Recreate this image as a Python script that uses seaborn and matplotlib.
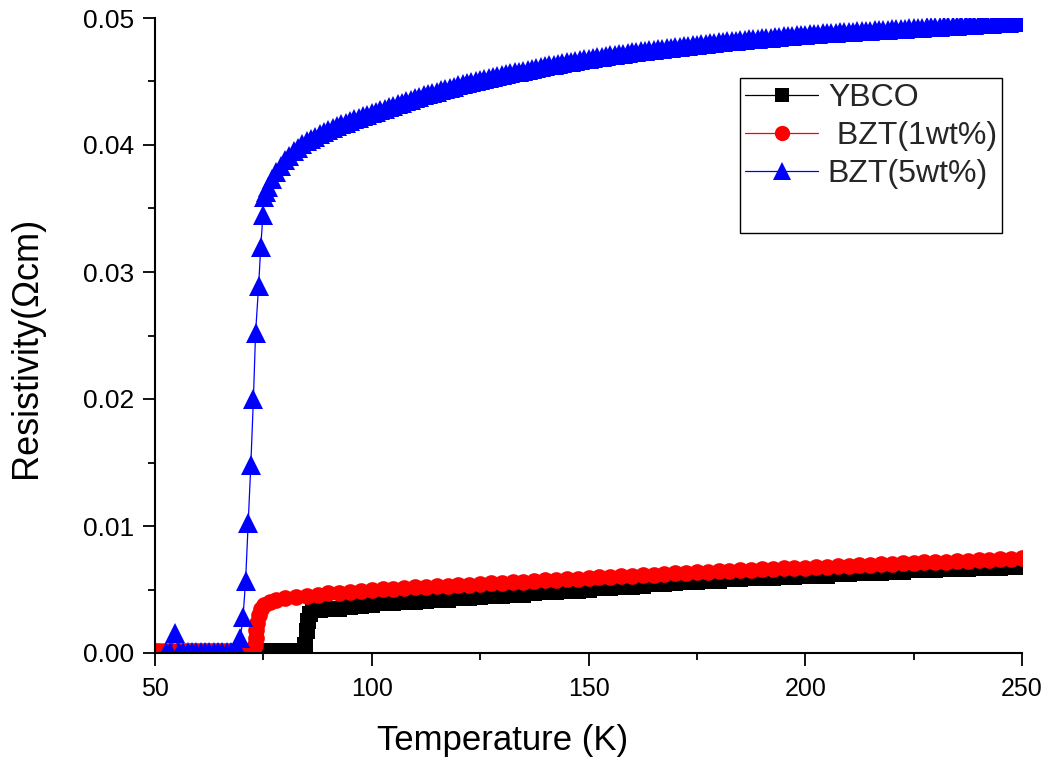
import matplotlib
matplotlib.use("Agg")
import matplotlib.pyplot as plt
from matplotlib.lines import Line2D
from matplotlib.ticker import MultipleLocator, FormatStrFormatter
import seaborn as sns
import pandas as pd

# ---------------- data ----------------
labels = ["YBCO", " BZT(1wt%)", "BZT(5wt%)"]

temp_normal = [100, 102.5, 105, 107.5, 110, 112.5, 115, 117.5, 120, 122.5,
               125, 127.5, 130, 132.5, 135, 137.5, 140, 142.5, 145, 147.5,
               150, 152.5, 155, 157.5, 160, 162.5, 165, 167.5, 170, 172.5,
               175, 177.5, 180, 182.5, 185, 187.5, 190, 192.5, 195, 197.5,
               200, 202.5, 205, 207.5, 210, 212.5, 215, 217.5, 220, 222.5,
               225, 227.5, 230, 232.5, 235, 237.5, 240, 242.5, 245, 247.5, 250]

# YBCO
ybco_temp_low = [72, 73, 74, 75, 76, 77, 78, 79, 80, 81, 82, 83, 84,
                 84.6, 85.0, 85.4, 85.8, 86.5, 88, 90, 92.5, 95, 97.5]
ybco_rho_low = [0.00015, 0.00015, 0.00015, 0.00015, 0.00015, 0.00015, 0.00015,
                0.00015, 0.00015, 0.00015, 0.00015, 0.00015, 0.00015,
                0.0006, 0.0017, 0.0025, 0.0031, 0.0034, 0.0034, 0.0035,
                0.0035, 0.0036, 0.0037]
ybco_rho_normal = [0.0038, 0.0039, 0.0039, 0.0040, 0.0040, 0.0041, 0.0042, 0.0042,
                   0.0043, 0.0043, 0.0044, 0.0045, 0.0045, 0.0046, 0.0046, 0.0047,
                   0.0048, 0.0048, 0.0049, 0.0049, 0.0050, 0.0051, 0.0051, 0.0052,
                   0.0052, 0.0053, 0.0054, 0.0054, 0.0055, 0.0056, 0.0056, 0.0057,
                   0.0057, 0.0058, 0.0058, 0.0059, 0.0059, 0.0059, 0.0060, 0.0060,
                   0.0061, 0.0061, 0.0061, 0.0062, 0.0062, 0.0063, 0.0063, 0.0063,
                   0.0064, 0.0064, 0.0065, 0.0065, 0.0065, 0.0066, 0.0066, 0.0066,
                   0.0067, 0.0067, 0.0067, 0.0068, 0.0068]

# BZT 1 wt%
bzt1_temp_low = [50, 51, 52, 53, 54, 55, 56, 57, 58, 59, 60, 61, 62, 63, 64,
                 65, 66, 67, 68, 69, 70, 71, 72, 72.5, 73.0, 73.2, 73.4, 73.6,
                 73.9, 74.4, 75.2, 76.5, 78, 80, 82.5, 85, 87.5, 90, 92.5, 95, 97.5]
bzt1_rho_low = [0.00015, 0.00015, 0.00015, 0.00015, 0.00015,
                0.00015, 0.00015, 0.00015, 0.00015, 0.00015, 0.00015, 0.00015,
                0.00015, 0.00015, 0.00015, 0.00015, 0.00015, 0.00015, 0.00015,
                0.00015, 0.00015, 0.00015, 0.00015, 0.0002, 0.0006, 0.0012,
                0.0018, 0.0024, 0.0030, 0.0035, 0.0038, 0.0040, 0.0042, 0.0043,
                0.0044, 0.0045, 0.0046, 0.0047, 0.00475, 0.0048, 0.0049]
bzt1_rho_normal = [0.00497, 0.00502, 0.00506, 0.00511, 0.00516, 0.00520, 0.00525,
                   0.00530, 0.00534, 0.00539, 0.00544, 0.00548, 0.00553, 0.00558,
                   0.00562, 0.00567, 0.00572, 0.00576, 0.00581, 0.00586, 0.00590,
                   0.00595, 0.00600, 0.00604, 0.00609, 0.00614, 0.00618, 0.00623,
                   0.00628, 0.00632, 0.00637, 0.00641, 0.00644, 0.00648, 0.00651,
                   0.00655, 0.00659, 0.00662, 0.00666, 0.00669, 0.00673, 0.00677,
                   0.00680, 0.00684, 0.00687, 0.00691, 0.00695, 0.00698, 0.00702,
                   0.00705, 0.00709, 0.00713, 0.00716, 0.00720, 0.00723, 0.00727,
                   0.00731, 0.00734, 0.00738, 0.00741, 0.00745]

# BZT 5 wt%
bzt5_temp_low = [52.5, 53.5, 54.6, 55.5, 56.5, 57.5, 58.5, 59.5, 60.5, 61.5,
                 62.5, 63.5, 64.5, 65.5, 66.5, 67.5, 68.5, 69.3, 69.7, 70.3,
                 70.9, 71.5, 72.1, 72.7, 73.2, 73.9, 74.4, 74.9, 75.1, 75.5]
bzt5_rho_low = [0.0001, 0.0001, 0.0016, 0.0001, 0.0001, 0.0001, 0.0001, 0.0001,
                0.0001, 0.0001, 0.0001, 0.0001, 0.0001, 0.0001, 0.0001, 0.0001,
                0.0001, 0.0001, 0.0012, 0.0028, 0.0057, 0.0102, 0.0148, 0.0200,
                0.0252, 0.0289, 0.0320, 0.0345, 0.0359, 0.0363]
bzt5_temp_high = [76, 77, 78, 79, 80, 81, 82, 83, 84, 85,
                  86, 87, 88, 89, 90, 91, 92, 93, 94, 95,
                  96, 97, 98, 99, 100, 101, 102, 103, 104, 105,
                  106, 107, 108, 109, 110, 111, 112, 113, 114, 115,
                  116, 117, 118, 119, 120, 121, 122, 123, 124, 125,
                  126, 127, 128, 129, 130, 131, 132, 133, 134, 135,
                  136, 137, 138, 139, 140, 141, 142, 143, 144, 145,
                  146, 147, 148, 149, 150, 151, 152, 153, 154, 155,
                  156, 157, 158, 159, 160, 161, 162, 163, 164, 165,
                  166, 167, 168, 169, 170, 171, 172, 173, 174, 175,
                  176, 177, 178, 179, 180, 181, 182, 183, 184, 185,
                  186, 187, 188, 189, 190, 191, 192, 193, 194, 195,
                  196, 197, 198, 199, 200, 201, 202, 203, 204, 205,
                  206, 207, 208, 209, 210, 211, 212, 213, 214, 215,
                  216, 217, 218, 219, 220, 221, 222, 223, 224, 225,
                  226, 227, 228, 229, 230, 231, 232, 233, 234, 235,
                  236, 237, 238, 239, 240, 241, 242, 243, 244, 245,
                  246, 247, 248, 249, 250]
bzt5_rho_high = [0.03670, 0.03735, 0.03790, 0.03835, 0.03880, 0.03915, 0.03950, 0.03980, 0.04005, 0.04030,
                 0.04048, 0.04066, 0.04084, 0.04102, 0.04120, 0.04134, 0.04148, 0.04162, 0.04176, 0.04190,
                 0.04202, 0.04214, 0.04226, 0.04238, 0.04250, 0.04262, 0.04274, 0.04286, 0.04298, 0.04310,
                 0.04322, 0.04334, 0.04346, 0.04358, 0.04370, 0.04380, 0.04390, 0.04400, 0.04410, 0.04420,
                 0.04430, 0.04440, 0.04450, 0.04460, 0.04470, 0.04478, 0.04486, 0.04494, 0.04502, 0.04510,
                 0.04518, 0.04526, 0.04534, 0.04542, 0.04550, 0.04557, 0.04564, 0.04571, 0.04578, 0.04585,
                 0.04592, 0.04599, 0.04606, 0.04613, 0.04620, 0.04626, 0.04632, 0.04638, 0.04644, 0.04650,
                 0.04656, 0.04662, 0.04668, 0.04674, 0.04680, 0.04685, 0.04690, 0.04695, 0.04700, 0.04705,
                 0.04710, 0.04715, 0.04720, 0.04725, 0.04730, 0.04734, 0.04738, 0.04742, 0.04746, 0.04750,
                 0.04754, 0.04758, 0.04762, 0.04766, 0.04770, 0.04774, 0.04778, 0.04782, 0.04786, 0.04790,
                 0.04794, 0.04798, 0.04802, 0.04806, 0.04810, 0.04813, 0.04816, 0.04819, 0.04822, 0.04825,
                 0.04828, 0.04831, 0.04834, 0.04837, 0.04840, 0.04843, 0.04846, 0.04849, 0.04852, 0.04855,
                 0.04858, 0.04861, 0.04864, 0.04867, 0.04870, 0.04872, 0.04874, 0.04876, 0.04878, 0.04880,
                 0.04882, 0.04884, 0.04886, 0.04888, 0.04890, 0.04892, 0.04894, 0.04896, 0.04898, 0.04900,
                 0.04902, 0.04904, 0.04906, 0.04908, 0.04910, 0.04912, 0.04914, 0.04916, 0.04918, 0.04920,
                 0.04922, 0.04924, 0.04926, 0.04928, 0.04930, 0.04932, 0.04934, 0.04936, 0.04938, 0.04940,
                 0.04942, 0.04944, 0.04946, 0.04948, 0.04950, 0.04952, 0.04954, 0.04956, 0.04958, 0.04960,
                 0.04962, 0.04964, 0.04966, 0.04968, 0.04970]

x_ticks = [50, 100, 150, 200, 250]
y_ticks = [0.00, 0.01, 0.02, 0.03, 0.04, 0.05]

# ---------------- build frames ----------------
df_ybco = pd.DataFrame({"T": ybco_temp_low + temp_normal,
                        "rho": ybco_rho_low + ybco_rho_normal})
df_bzt1 = pd.DataFrame({"T": bzt1_temp_low + temp_normal,
                        "rho": bzt1_rho_low + bzt1_rho_normal})
df_bzt5 = pd.DataFrame({"T": bzt5_temp_low + bzt5_temp_high,
                        "rho": bzt5_rho_low + bzt5_rho_high})

# ---------------- style ----------------
sns.set_style("ticks")
plt.rcParams["font.family"] = ["Liberation Sans", "DejaVu Sans"]

fig = plt.figure(figsize=(10.48, 7.63), dpi=100)
W, H = 1048, 763
L, R, B, T = 155, 1022, 653, 18
ax = fig.add_axes([L / W, 1 - B / H, (R - L) / W, (B - T) / H])

styles = [
    (df_ybco, "black", "s", 11),
    (df_bzt1, "red", "o", 12),
    (df_bzt5, "blue", "^", 15),
]
leg_ms = [10, 11, 13]
handles = []
for (df, col, mk, ms), lab, lms in zip(styles, labels, leg_ms):
    sns.lineplot(data=df, x="T", y="rho", ax=ax, color=col, marker=mk,
                 markersize=ms, markeredgewidth=0, linewidth=0.9,
                 estimator=None, sort=False, legend=False)
    handles.append(Line2D([], [], color=col, marker=mk, markersize=lms,
                          markeredgewidth=0, linewidth=0.9, label=lab))

ax.set_xlim(50, 250)
ax.set_ylim(0, 0.05)
ax.set_xticks(x_ticks)
ax.set_yticks(y_ticks)
ax.xaxis.set_minor_locator(MultipleLocator(25))
ax.yaxis.set_minor_locator(MultipleLocator(0.005))
ax.yaxis.set_major_formatter(FormatStrFormatter("%.2f"))

for side in ["top", "right"]:
    ax.spines[side].set_visible(False)
for side in ["left", "bottom"]:
    ax.spines[side].set_linewidth(1.5)
    ax.spines[side].set_color("black")

ax.tick_params(axis="both", which="major", direction="out", length=9,
               width=1.3, color="black", labelcolor="black")
ax.tick_params(axis="x", which="major", pad=8, labelsize=18)
ax.tick_params(axis="y", which="major", pad=6, labelsize=19)
ax.tick_params(axis="both", which="minor", direction="out", length=5,
               width=1.3, color="black")

ax.set_xlabel("Temperature (K)", fontsize=25, color="black")
ax.set_ylabel("Resistivity(\u03a9cm)", fontsize=26, color="black")
ax.xaxis.set_label_coords((503 - L) / (R - L), (B - 724) / (B - T))
ax.yaxis.set_label_coords((44 - L) / (R - L), (B - 347) / (B - T))

blank = Line2D([], [], linestyle="none", label=" ")
leg = ax.legend(handles=handles + [blank], loc="upper left",
                bbox_to_anchor=((740 - L) / (R - L), (B - 78) / (B - T)),
                borderaxespad=0, fontsize=23, frameon=True, fancybox=False,
                framealpha=1, edgecolor="black", handlelength=2.3,
                handletextpad=0.3, labelspacing=0.26, borderpad=0.15)
leg.get_frame().set_linewidth(1.0)

fig.savefig("out.png", dpi=100)
